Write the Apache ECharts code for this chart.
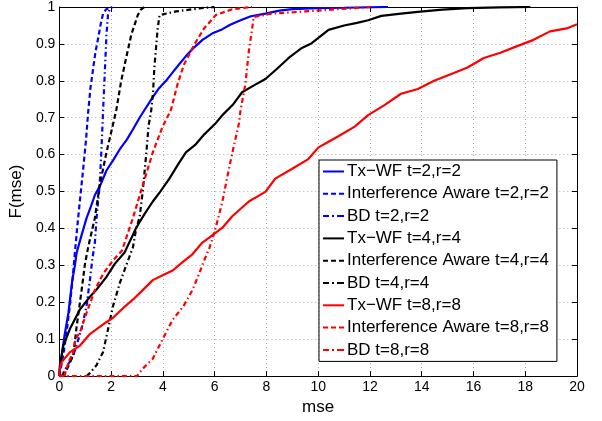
<!DOCTYPE html>
<html>
<head>
<meta charset="utf-8">
<script src="https://cdn.jsdelivr.net/npm/echarts@6/dist/echarts.min.js"></script>
<style>html,body{margin:0;padding:0;background:#fff}#c{width:602px;height:421px}</style>
</head>
<body>
<div id="c"></div>
<script>
var xTicks = [0,2,4,6,8,10,12,14,16,18,20];
var yTicks = ['0','0.1','0.2','0.3','0.4','0.5','0.6','0.7','0.8','0.9','1'];
var seriesNames = ['Tx\u2212WF t=2,r=2','Interference Aware t=2,r=2','BD t=2,r=2',
  'Tx\u2212WF t=4,r=4','Interference Aware t=4,r=4','BD t=4,r=4',
  'Tx\u2212WF t=8,r=8','Interference Aware t=8,r=8','BD t=8,r=8'];

var txwf2 = [[0,0],[0.02,0.03],[0.09,0.056],[0.2,0.11],[0.35,0.171],[0.5,0.26],[0.6,0.3],[0.67,0.335],[0.85,0.38],[1.05,0.428],[1.22,0.46],[1.37,0.49],[1.6,0.52],[1.82,0.557],[2.08,0.585],[2.33,0.614],[2.6,0.64],[2.84,0.668],[3.1,0.7],[3.29,0.721],[3.61,0.756],[3.85,0.78],[4.12,0.8],[4.4,0.825],[4.63,0.845],[4.89,0.867],[5.2,0.89],[5.53,0.911],[5.9,0.928],[6.3,0.94],[6.6,0.952],[7.0,0.964],[7.4,0.975],[7.96,0.982],[8.5,0.99],[9.0,0.994],[10,0.997],[11,0.998],[12.7,1]];
var ia2 = [[0,0],[0.08,0.03],[0.18,0.07],[0.3,0.13],[0.42,0.2],[0.52,0.27],[0.6,0.335],[0.7,0.41],[0.79,0.473],[0.92,0.561],[1.03,0.64],[1.11,0.713],[1.2,0.78],[1.31,0.836],[1.4,0.88],[1.5,0.916],[1.6,0.955],[1.69,0.982],[1.8,0.993],[2.0,1]];
var bd2 = [[0.1,0],[0.2,0.015],[0.54,0.056],[0.86,0.128],[1.05,0.19],[1.18,0.26],[1.28,0.32],[1.37,0.36],[1.44,0.43],[1.56,0.52],[1.63,0.62],[1.69,0.72],[1.76,0.83],[1.82,0.925],[1.88,0.98],[1.95,0.995],[2.05,1]];
var txwf4 = [[0,0],[0.03,0.03],[0.15,0.082],[0.41,0.128],[0.79,0.18],[1.18,0.215],[1.43,0.234],[1.82,0.269],[2.14,0.304],[2.52,0.335],[2.97,0.402],[3.3,0.44],[3.61,0.473],[3.9,0.5],[4.25,0.535],[4.6,0.575],[4.89,0.606],[5.27,0.628],[5.6,0.655],[6.04,0.685],[6.3,0.707],[6.7,0.735],[7.06,0.769],[7.5,0.787],[7.96,0.805],[8.4,0.832],[8.86,0.862],[9.37,0.889],[9.75,0.902],[10.4,0.938],[11.0,0.95],[11.5,0.957],[11.93,0.964],[12.44,0.976],[13.2,0.982],[13.85,0.987],[14.8,0.993],[15.77,0.997],[17,0.999],[18.2,1]];
var ia4 = [[0.1,0],[0.3,0.02],[0.54,0.056],[0.67,0.136],[0.86,0.233],[0.99,0.304],[1.11,0.348],[1.18,0.37],[1.37,0.428],[1.56,0.517],[1.82,0.606],[2.0,0.66],[2.2,0.721],[2.39,0.8],[2.58,0.862],[2.78,0.925],[3.03,0.978],[3.15,0.993],[3.29,1]];
var bd4 = [[1.05,0],[1.18,0.008],[1.43,0.029],[1.69,0.065],[1.88,0.127],[2.07,0.189],[2.33,0.251],[2.65,0.313],[2.84,0.348],[2.97,0.4],[3.1,0.43],[3.22,0.5],[3.35,0.597],[3.45,0.68],[3.55,0.72],[3.62,0.77],[3.67,0.836],[3.8,0.942],[3.87,0.978],[4.5,0.988],[5.5,0.997],[6.0,1]];
var txwf8 = [[0,0],[0.02,0.02],[0.09,0.038],[0.41,0.065],[0.79,0.082],[1.18,0.114],[1.69,0.14],[2.07,0.158],[2.46,0.184],[2.84,0.207],[3.22,0.233],[3.61,0.26],[3.99,0.273],[4.38,0.286],[4.76,0.309],[5.14,0.33],[5.5,0.36],[5.79,0.375],[6.3,0.402],[6.68,0.433],[7.32,0.473],[7.96,0.499],[8.34,0.535],[8.98,0.561],[9.62,0.588],[10.0,0.619],[10.4,0.635],[10.78,0.65],[11.41,0.676],[11.93,0.707],[12.56,0.734],[13.2,0.765],[13.85,0.778],[14.48,0.8],[15.12,0.818],[15.77,0.836],[16.4,0.862],[17.04,0.876],[17.69,0.894],[18.32,0.911],[18.96,0.934],[19.6,0.942],[20,0.953]];
var ia8 = [[0.2,0],[0.27,0.02],[0.4,0.045],[0.54,0.065],[0.62,0.1],[0.79,0.118],[1.05,0.171],[1.37,0.233],[1.69,0.277],[2.07,0.313],[2.42,0.34],[2.84,0.428],[3.22,0.517],[3.61,0.606],[3.99,0.676],[4.31,0.721],[4.57,0.792],[4.82,0.845],[5.21,0.898],[5.59,0.942],[6.04,0.978],[6.68,0.994],[7.45,1]];
var bd8 = [[0,0],[3.0,0],[3.22,0.02],[3.61,0.047],[3.99,0.1],[4.38,0.153],[4.8,0.19],[5.14,0.233],[5.4,0.277],[5.59,0.313],[5.79,0.345],[6.04,0.402],[6.3,0.473],[6.55,0.561],[6.74,0.623],[6.94,0.685],[7.0,0.72],[7.19,0.792],[7.32,0.88],[7.45,0.942],[7.51,0.973],[8.2,0.982],[9.49,0.988],[11.16,0.996],[12,1]];

var dataList = [txwf2, ia2, bd2, txwf4, ia4, bd4, txwf8, ia8, bd8];
var colors = ['#0000ff','#0000ff','#0000ff','#000000','#000000','#000000','#ff0000','#ff0000','#ff0000'];
var dashes = ['solid',[5,3],[5,3,1.5,3],'solid',[5,3],[5,3,1.5,3],'solid',[5,3],[5,3,1.5,3]];
var icons = [
  'path://M0,0H21V2H0Z',
  'path://M0,0H5V2H0Z M8,0H13V2H8Z M16,0H21V2H16Z',
  'path://M0,0H6V2H0Z M9,0H11V2H9Z M14,0H21V2H14Z'
];

var FONT = '"Liberation Sans", Arial, Helvetica, sans-serif';
var chart = echarts.init(document.getElementById('c'), null, {renderer:'canvas'});

var series = dataList.map(function(d, i){
  return {
    name: seriesNames[i], type: 'line', data: d, showSymbol: false, symbol: 'none',
    xAxisIndex: 0, yAxisIndex: 0, animation: false, clip: true,
    lineStyle: {color: colors[i], width: 2.2, type: dashes[i]},
    itemStyle: {color: colors[i]}
  };
});

var legendData = seriesNames.map(function(n, i){
  return {name: n, icon: icons[i % 3], itemStyle: {color: colors[i], borderWidth: 0}};
});

function axisCommon(){
  return {
    axisLine: {show: true, onZero: false, lineStyle: {color: '#000', width: 1}},
    axisTick: {show: true, inside: true, length: 5, lineStyle: {color: '#000'}}
  };
}

var option = {
  backgroundColor: '#fff',
  animation: false,
  grid: {left: 56, right: 25, top: 5, bottom: 40, containLabel: false},
  legend: {
    orient: 'vertical', left: 319, top: 160,
    data: legendData,
    itemWidth: 21, itemHeight: 2, itemGap: 5.3,
    padding: [3, 8, 3, 4],
    backgroundColor: '#fff', borderColor: '#000', borderWidth: 1, borderRadius: 0,
    textStyle: {fontFamily: FONT, fontSize: 17, color: '#000', padding: [0,0,0,-2]},
    selectedMode: false
  },
  xAxis: [
    Object.assign({type: 'value', min: 0, max: 20, interval: 2, position: 'bottom',
      name: 'mse', nameLocation: 'middle', nameGap: 17,
      nameTextStyle: {fontFamily: FONT, fontSize: 17, color: '#000'},
      axisLabel: {fontFamily: FONT, fontSize: 14, color: '#000', margin: 4,
        formatter: function(v){ return String(xTicks[Math.round(v/2)]); }},
      splitLine: {show: true, lineStyle: {color: '#aaaaaa', type: [1,3], width: 1}}
    }, axisCommon()),
    Object.assign({type: 'value', min: 0, max: 20, interval: 2, position: 'top',
      axisLabel: {show: false}, splitLine: {show: false}}, axisCommon())
  ],
  yAxis: [
    Object.assign({type: 'value', min: 0, max: 1, interval: 0.1, position: 'left',
      name: 'F(mse)', nameLocation: 'middle', nameGap: 23,
      nameTextStyle: {fontFamily: FONT, fontSize: 17, color: '#000'},
      axisLabel: {fontFamily: FONT, fontSize: 14, color: '#000', margin: 4,
        formatter: function(v){ return yTicks[Math.round(v*10)]; }},
      splitLine: {show: true, lineStyle: {color: '#aaaaaa', type: [1,3], width: 1}}
    }, axisCommon()),
    Object.assign({type: 'value', min: 0, max: 1, interval: 0.1, position: 'right',
      axisLabel: {show: false}, splitLine: {show: false}}, axisCommon())
  ],
  series: series
};
chart.setOption(option);
</script>
</body>
</html>
